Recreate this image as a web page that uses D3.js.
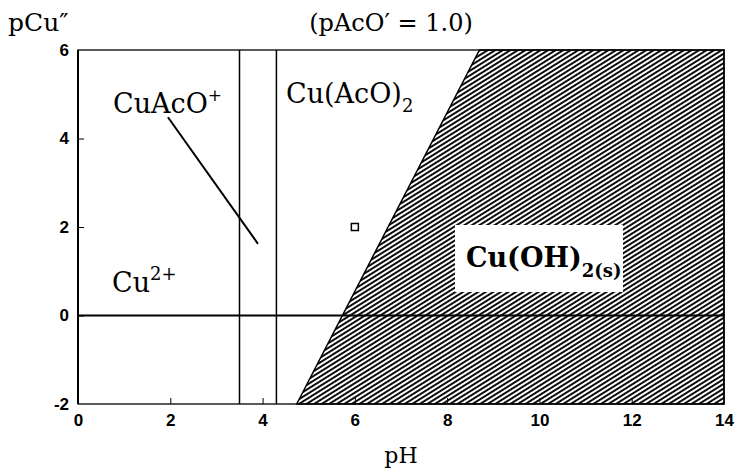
<html>
<head>
<meta charset="utf-8">
<title>pCu'' vs pH</title>
<script src="https://cdn.jsdelivr.net/npm/d3@7"></script>
<style>
body { margin: 0; background: #fff; }
text { fill: #000; }
.lbl { font-family: "DejaVu Serif", serif; }
.tick text { font-family: "Liberation Sans", Arial, sans-serif; font-weight: bold; font-size: 17px; }
</style>
</head>
<body>
<script>
 // axis ticks
 var xTicks = [0, 2, 4, 6, 8, 10, 12, 14];
 var yTicks = [-2, 0, 2, 4, 6];

 // boundaries (pH)
 var vLines = [3.5, 4.3];
 // Cu(OH)2 solubility boundary: [pH, pCu]
 var solidEdge = [[4.74, -2], [8.7, 6]];
 var hLine = 0;
 // pointer from CuAcO+ label: [pH, pCu]
 var pointer = [[1.95, 4.48], [3.9, 1.62]];
 // open square
 var marker = [[6, 2]];

 var W = 735, H = 470;
 var m = { left: 78, right: 11, top: 50, bottom: 66 };

 var svg = d3.select('body').append('svg')
   .attr('width', W).attr('height', H);

 var x = d3.scaleLinear().domain([0, 14]).range([m.left, W - m.right]);
 var y = d3.scaleLinear().domain([-2, 6]).range([H - m.bottom, m.top]);

 // hatch pattern
 var pat = svg.append('defs').append('pattern')
   .attr('id', 'hatch')
   .attr('patternUnits', 'userSpaceOnUse')
   .attr('width', 8).attr('height', 4)
   .attr('patternTransform', 'rotate(-32)');
 pat.append('line')
   .attr('x1', 0).attr('y1', 1).attr('x2', 8).attr('y2', 1)
   .attr('stroke', '#000').attr('stroke-width', 1.9);

 // hatched area
 var poly = [
   solidEdge[0], solidEdge[1], [14, 6], [14, -2]
 ];
 svg.append('path')
   .attr('d', d3.line().x(function(d) { return x(d[0]); }).y(function(d) { return y(d[1]); })(poly) + 'Z')
   .attr('fill', 'url(#hatch)')
   .attr('stroke', '#000').attr('stroke-width', 1.5);

 // frame
 svg.append('rect')
   .attr('x', x(0)).attr('y', y(6))
   .attr('width', x(14) - x(0)).attr('height', y(-2) - y(6))
   .attr('fill', 'none').attr('stroke', '#000').attr('stroke-width', 1.3);
 svg.append('line')
   .attr('x1', x(0)).attr('x2', x(0)).attr('y1', y(6)).attr('y2', y(-2))
   .attr('stroke', '#000').attr('stroke-width', 2);

 // axes
 var xAxis = d3.axisBottom(x).tickValues(xTicks).tickSize(-6).tickPadding(10);
 var gx = svg.append('g').attr('transform', 'translate(0,' + y(-2) + ')').call(xAxis);
 gx.select('.domain').remove();
 gx.selectAll('.tick line').filter(function(d) { return d == 0 || d == 14; }).remove();

 var yAxis = d3.axisLeft(y).tickValues(yTicks).tickSize(-6).tickPadding(9)
   .tickFormat(function(d) { return d < 0 ? '-' + Math.abs(d) : d; });
 var gy = svg.append('g').attr('transform', 'translate(' + x(0) + ',0)').call(yAxis);
 gy.select('.domain').remove();
 gy.selectAll('.tick line').filter(function(d) { return d == -2 || d == 6; }).remove();

 // boundary lines
 svg.selectAll('.vl').data(vLines).enter().append('line')
   .attr('x1', function(d) { return x(d); }).attr('x2', function(d) { return x(d); })
   .attr('y1', y(6)).attr('y2', y(-2))
   .attr('stroke', '#000').attr('stroke-width', 1.5);

 svg.append('line')
   .attr('x1', x(0)).attr('x2', x(14)).attr('y1', y(hLine)).attr('y2', y(hLine))
   .attr('stroke', '#000').attr('stroke-width', 2.2);

 svg.append('line')
   .attr('x1', x(pointer[0][0])).attr('y1', y(pointer[0][1]))
   .attr('x2', x(pointer[1][0])).attr('y2', y(pointer[1][1]))
   .attr('stroke', '#000').attr('stroke-width', 2);

 svg.selectAll('.mk').data(marker).enter().append('rect')
   .attr('x', function(d) { return x(d[0]) - 3.5; })
   .attr('y', function(d) { return y(d[1]) - 3.5; })
   .attr('width', 7).attr('height', 7)
   .attr('fill', '#fff').attr('stroke', '#000').attr('stroke-width', 1.5);

 // white box for solid label
 svg.append('rect')
   .attr('x', 455).attr('y', 225).attr('width', 168).attr('height', 67)
   .attr('fill', '#fff');

 // labels
 function label(tx, ty, size, weight, parts) {
   var t = svg.append('text').attr('class', 'lbl')
     .attr('x', tx).attr('y', ty)
     .attr('font-size', size).attr('font-weight', weight);
   parts.forEach(function(p) {
     var s = t.append('tspan').text(p[0]);
     if (p[1]) s.attr('dy', p[1]);
     if (p[2]) s.attr('font-size', p[2]);
   });
   return t;
 }

 label(8, 31, 25, 'normal', [['pCu\u2033']]);
 label(391, 31, 24, 'normal', [['(pAcO\u2032 = 1.0)']]).attr('text-anchor', 'middle');
 label(x(7), 463, 22, 'normal', [['pH']]).attr('text-anchor', 'middle');

 label(113, 113, 27, 'normal', [['CuAcO'], ['+', -12, 17]]);
 label(286, 103, 27, 'normal', [['Cu(AcO)'], ['2', 9, 18]]);
 label(112, 292, 27, 'normal', [['Cu'], ['2+', -12, 18]]);
 label(466, 267, 27, 'bold', [['Cu(OH)'], ['2(s)', 10, 18]]);
</script>
</body>
</html>
